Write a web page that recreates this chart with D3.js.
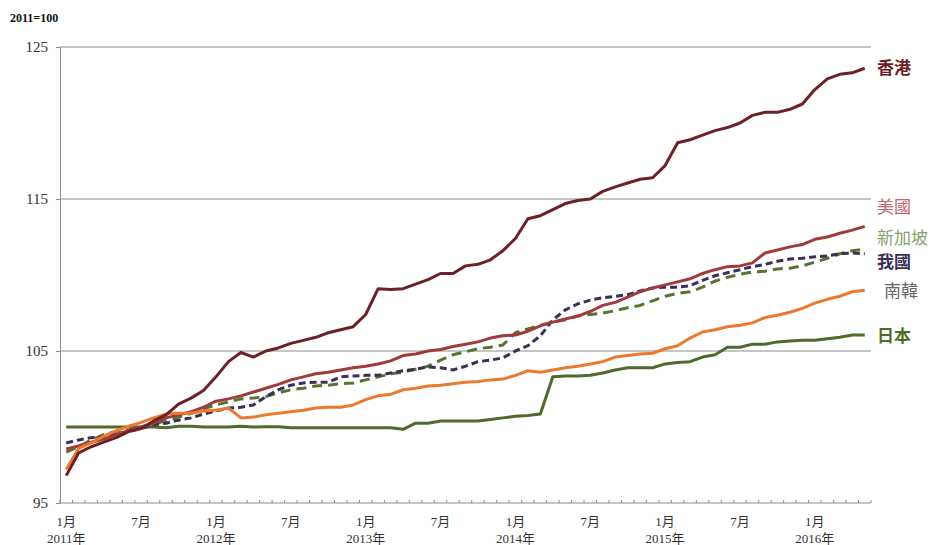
<!DOCTYPE html>
<html>
<head>
<meta charset="utf-8">
<script src="https://cdn.jsdelivr.net/npm/d3@7"></script>
<style>
  body { margin: 0; background: #fff; }
  svg text { font-family: "Liberation Serif", "Noto Sans CJK TC", serif; }
</style>
</head>
<body>
<div id="chart"></div>
<script>
// months Jan 2011 .. May 2016
const months = d3.range(65).map(i => ({ year: 2011 + Math.floor(i / 12), month: (i % 12) + 1 }));

const hongKong = [96.8, 98.3, 98.7, 99.0, 99.3, 99.7, 99.9, 100.4, 100.8, 101.5, 101.9, 102.4,
  103.3, 104.3, 104.9, 104.6, 105.0, 105.2, 105.5, 105.7, 105.9, 106.2, 106.4, 106.6,
  107.4, 109.1, 109.05, 109.1, 109.4, 109.7, 110.1, 110.1, 110.6, 110.7, 111.0, 111.6,
  112.4, 113.7, 113.9, 114.3, 114.7, 114.9, 115.0, 115.5, 115.8, 116.05, 116.3, 116.4,
  117.2, 118.7, 118.9, 119.2, 119.5, 119.7, 120.0, 120.5, 120.7, 120.7, 120.9, 121.25,
  122.2, 122.9, 123.2, 123.3, 123.6];

const usa = [98.55, 98.75, 99.0, 99.2, 99.5, 99.75, 100.0, 100.25, 100.6, 100.8, 101.0, 101.3,
  101.7, 101.85, 102.05, 102.3, 102.55, 102.8, 103.1, 103.3, 103.5, 103.6, 103.75, 103.9,
  104.0, 104.15, 104.35, 104.7, 104.8, 105.0, 105.1, 105.3, 105.45, 105.6, 105.85, 106.0,
  106.05, 106.3, 106.65, 106.9, 107.1, 107.3, 107.6, 108.0, 108.2, 108.55, 108.9, 109.15,
  109.35, 109.55, 109.75, 110.1, 110.35, 110.55, 110.6, 110.8, 111.45, 111.65, 111.85, 112.0,
  112.35, 112.5, 112.75, 112.95, 113.2];

const singapore = [98.35, 98.7, 99.15, 99.5, 99.7, 99.8, 100.0, 100.2, 100.4, 100.65, 100.9, 101.2,
  101.45, 101.65, 101.85, 101.9, 102.0, 102.25, 102.45, 102.55, 102.7, 102.75, 102.85, 102.9,
  103.1, 103.3, 103.5, 103.6, 103.8, 104.0, 104.4, 104.75, 104.95, 105.15, 105.25, 105.4,
  106.2, 106.45, 106.7, 106.9, 107.05, 107.3, 107.4, 107.5, 107.65, 107.85, 108.0, 108.3,
  108.6, 108.8, 108.9, 109.2, 109.6, 109.85, 110.05, 110.2, 110.25, 110.4, 110.45, 110.6,
  110.85, 111.1, 111.4, 111.6, 111.7];

const taiwan = [98.95, 99.15, 99.3, 99.35, 99.55, 99.7, 99.9, 100.15, 100.25, 100.45, 100.6, 100.85,
  101.05, 101.25, 101.3, 101.45, 102.0, 102.45, 102.75, 102.9, 102.95, 102.95, 103.3, 103.35,
  103.4, 103.4, 103.55, 103.7, 103.8, 103.95, 103.9, 103.75, 104.0, 104.3, 104.4, 104.55,
  105.0, 105.35, 106.0, 107.05, 107.7, 108.1, 108.35, 108.5, 108.6, 108.7, 108.95, 109.15,
  109.2, 109.2, 109.3, 109.65, 109.95, 110.15, 110.35, 110.55, 110.7, 110.9, 111.05, 111.1,
  111.2, 111.25, 111.4, 111.45, 111.4];

const korea = [97.2, 98.6, 98.95, 99.4, 99.75, 100.05, 100.3, 100.6, 100.85, 100.9, 100.9, 101.05,
  101.1, 101.25, 100.6, 100.65, 100.8, 100.9, 101.0, 101.1, 101.25, 101.3, 101.3, 101.45,
  101.8, 102.05, 102.15, 102.45, 102.55, 102.7, 102.75, 102.85, 102.95, 103.0, 103.1, 103.15,
  103.4, 103.7, 103.6, 103.75, 103.9, 104.0, 104.15, 104.3, 104.6, 104.7, 104.8, 104.85,
  105.15, 105.35, 105.85, 106.25, 106.4, 106.6, 106.7, 106.85, 107.2, 107.35, 107.55, 107.8,
  108.15, 108.4, 108.6, 108.9, 109.0];

const japan = [100.0, 100.0, 100.0, 100.0, 100.0, 100.0, 100.0, 100.0, 99.95, 100.05, 100.05, 100.0,
  100.0, 100.0, 100.05, 100.0, 100.02, 100.02, 99.95, 99.95, 99.95, 99.95, 99.95, 99.95,
  99.95, 99.95, 99.95, 99.85, 100.25, 100.25, 100.4, 100.4, 100.4, 100.4, 100.5, 100.6,
  100.7, 100.75, 100.85, 103.3, 103.35, 103.35, 103.4, 103.55, 103.75, 103.9, 103.9, 103.9,
  104.15, 104.25, 104.3, 104.6, 104.75, 105.25, 105.25, 105.45, 105.45, 105.6, 105.65, 105.7,
  105.7, 105.8, 105.9, 106.05, 106.05];

const yTicks = [95, 105, 115, 125];

// draw order: back to front
const series = [
  { name: "日本", values: japan, color: "#4f6a2b", dash: null, label: { color: "#4f6a2b", weight: "bold", y: 336, dx: 0 } },
  { name: "新加坡", values: singapore, color: "#557431", dash: "10,6", label: { color: "#8aa06c", weight: "normal", y: 238, dx: 0 } },
  { name: "我國", values: taiwan, color: "#3b2f58", dash: "7,4", label: { color: "#3b2f58", weight: "bold", y: 262, dx: 0 } },
  { name: "美國", values: usa, color: "#a13a3b", dash: null, label: { color: "#c0646b", weight: "normal", y: 207, dx: 0 } },
  { name: "南韓", values: korea, color: "#ec7a2e", dash: null, label: { color: "#666666", weight: "normal", y: 291, dx: 7 } },
  { name: "香港", values: hongKong, color: "#6c2224", dash: null, label: { color: "#6c2224", weight: "bold", y: 68, dx: 0 } }
];

const margin = { top: 47, right: 67, bottom: 42, left: 60 };
const width = 938 - margin.left - margin.right;
const height = 545 - margin.top - margin.bottom;

const svg = d3.select("#chart").append("svg")
  .attr("width", 938)
  .attr("height", 545);

const g = svg.append("g")
  .attr("transform", "translate(" + margin.left + "," + margin.top + ")");

const x = d3.scaleBand()
  .domain(d3.range(months.length))
  .range([0, width]);

const y = d3.scaleLinear()
  .domain([95, 125])
  .range([height, 0]);

// gridlines
g.selectAll(".grid")
  .data(yTicks.slice(1))
  .join("line")
  .attr("x1", 0)
  .attr("x2", width)
  .attr("y1", d => y(d))
  .attr("y2", d => y(d))
  .attr("stroke", "#8c8c8c")
  .attr("stroke-width", 1);

// y axis
const yAxis = g.append("g")
  .call(d3.axisLeft(y).tickValues(yTicks).tickSize(4).tickPadding(8));
yAxis.select(".domain").attr("stroke", "#8c8c8c");
yAxis.selectAll(".tick line").attr("stroke", "#8c8c8c");
yAxis.selectAll(".tick text")
  .attr("font-size", 15)
  .attr("fill", "#333")
  .style("font-family", "Liberation Serif, serif");

// x axis line + month ticks at band edges
g.append("line")
  .attr("x1", 0).attr("x2", width)
  .attr("y1", height).attr("y2", height)
  .attr("stroke", "#8c8c8c");

g.selectAll(".xtick")
  .data(d3.range(months.length + 1))
  .join("line")
  .attr("x1", d => d < months.length ? x(d) : width)
  .attr("x2", d => d < months.length ? x(d) : width)
  .attr("y1", height)
  .attr("y2", height - 3)
  .attr("stroke", "#8c8c8c");

const labelled = d3.range(months.length).filter(i => months[i].month === 1 || months[i].month === 7);

g.selectAll(".mlabel")
  .data(labelled)
  .join("text")
  .attr("x", i => x(i) + x.bandwidth() / 2)
  .attr("y", height + 23)
  .attr("text-anchor", "middle")
  .attr("font-size", 13)
  .attr("fill", "#333")
  .text(i => months[i].month + "月");

g.selectAll(".ylabel")
  .data(labelled.filter(i => months[i].month === 1))
  .join("text")
  .attr("x", i => x(i) + x.bandwidth() / 2)
  .attr("y", height + 40)
  .attr("text-anchor", "middle")
  .attr("font-size", 13)
  .attr("fill", "#333")
  .text(i => months[i].year + "年");

// lines
const line = d3.line()
  .x((d, i) => x(i) + x.bandwidth() / 2)
  .y(d => y(d));

g.selectAll(".series")
  .data(series)
  .join("path")
  .attr("fill", "none")
  .attr("stroke", d => d.color)
  .attr("stroke-width", 3)
  .attr("stroke-linejoin", "round")
  .attr("stroke-dasharray", d => d.dash)
  .attr("d", d => line(d.values));

// end labels
svg.selectAll(".endlabel")
  .data(series)
  .join("text")
  .attr("x", d => 877 + d.label.dx)
  .attr("y", d => d.label.y)
  .attr("dy", "0.35em")
  .attr("font-size", 17)
  .attr("font-weight", d => d.label.weight)
  .attr("fill", d => d.label.color)
  .style("font-family", "Noto Sans CJK TC, sans-serif")
  .text(d => d.name);

// base note
svg.append("text")
  .attr("x", 10)
  .attr("y", 22)
  .attr("font-size", 12)
  .attr("font-weight", "bold")
  .attr("fill", "#111")
  .text("2011=100");
</script>
</body>
</html>
